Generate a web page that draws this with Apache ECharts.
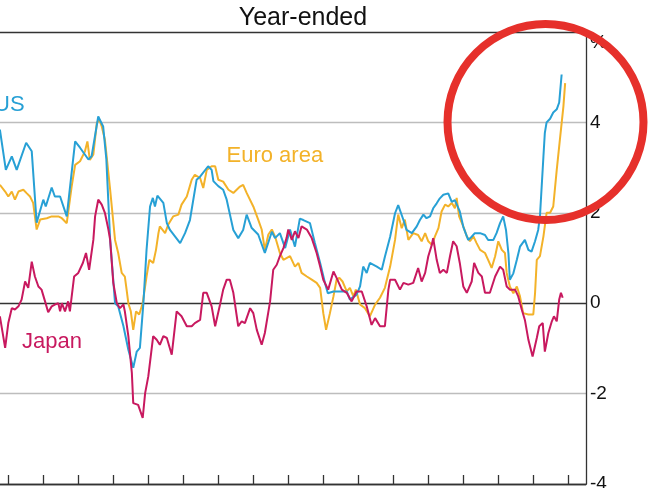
<!DOCTYPE html>
<html>
<head>
<meta charset="utf-8">
<script src="https://cdn.jsdelivr.net/npm/echarts@6/dist/echarts.min.js"></script>
<style>
html,body{margin:0;padding:0;background:#fff;}
#chart{width:650px;height:488px;}
</style>
</head>
<body>
<div id="chart"></div>
<script>
// Year-ended inflation, % ; x = decimal year
var title = 'Year-ended';
var seriesNames = ['Euro area', 'US', 'Japan'];
var yTicks = [-4, -2, 0, 2, 4, 6];
var yearTicks = [2006,2007,2008,2009,2010,2011,2012,2013,2014,2015,2016,2017,2018,2019,2020,2021,2022];

var us = [
[2005.76,3.84],[2005.93,2.95],[2006.10,3.25],[2006.24,2.95],[2006.51,3.55],[2006.67,3.36],[2006.81,1.78],
[2007.00,2.29],[2007.07,2.14],[2007.24,2.56],[2007.33,2.36],[2007.48,2.36],[2007.67,1.92],[2007.91,3.58],
[2008.05,3.44],[2008.29,3.18],[2008.38,3.25],[2008.57,4.13],[2008.71,3.91],[2008.80,3.20],[2008.91,1.40],
[2009.05,0.00],[2009.14,-0.07],[2009.29,-0.51],[2009.43,-1.03],[2009.57,-1.43],[2009.67,-1.07],[2009.76,-0.99],
[2009.86,0.00],[2009.95,1.18],[2010.05,2.14],[2010.13,2.33],[2010.19,2.14],[2010.26,2.38],[2010.43,2.22],
[2010.53,1.77],[2010.62,1.62],[2010.91,1.33],[2011.05,1.55],[2011.19,1.84],[2011.38,2.73],[2011.48,2.80],
[2011.71,3.03],[2011.81,2.95],[2011.86,2.70],[2012.00,2.59],[2012.14,2.51],[2012.24,2.29],[2012.43,1.62],
[2012.57,1.44],[2012.71,1.62],[2012.81,1.96],[2012.95,1.67],[2013.14,1.52],[2013.33,1.11],[2013.53,1.58],
[2013.62,1.44],[2013.76,1.55],[2013.91,1.22],[2014.05,1.63],[2014.19,1.25],[2014.33,1.87],[2014.43,1.84],
[2014.62,1.77],[2014.76,1.33],[2014.91,0.89],[2015.05,0.44],[2015.13,0.22],[2015.29,0.26],[2015.43,0.26],
[2015.67,0.26],[2015.76,0.08],[2015.95,0.19],[2016.05,0.37],[2016.14,0.81],[2016.24,0.67],[2016.33,0.89],
[2016.53,0.81],[2016.67,0.74],[2016.76,1.03],[2016.91,1.47],[2017.05,1.99],[2017.14,2.17],[2017.19,2.14],
[2017.29,1.84],[2017.38,1.62],[2017.53,1.55],[2017.67,1.70],[2017.76,1.84],[2017.86,1.96],[2017.95,1.88],
[2018.05,1.92],[2018.14,2.10],[2018.24,2.21],[2018.33,2.32],[2018.43,2.40],[2018.57,2.43],[2018.67,2.24],
[2018.76,2.28],[2018.90,2.03],[2019.00,1.69],[2019.14,1.40],[2019.24,1.47],[2019.33,1.55],[2019.48,1.55],
[2019.62,1.51],[2019.71,1.40],[2019.86,1.40],[2019.95,1.55],[2020.05,1.77],[2020.14,1.92],[2020.22,1.62],
[2020.29,1.10],[2020.33,0.52],[2020.43,0.66],[2020.53,0.96],[2020.62,1.25],[2020.76,1.40],[2020.86,1.18],
[2020.95,1.14],[2021.05,1.37],[2021.14,1.62],[2021.19,1.92],[2021.29,3.25],[2021.33,3.77],[2021.38,4.00],
[2021.48,4.08],[2021.57,4.22],[2021.67,4.29],[2021.74,4.44],[2021.81,5.06]
];

var euro = [
[2005.76,2.62],[2005.91,2.47],[2006.00,2.36],[2006.10,2.47],[2006.19,2.29],[2006.29,2.47],[2006.43,2.51],
[2006.53,2.43],[2006.62,2.36],[2006.71,2.22],[2006.81,1.63],[2006.91,1.85],[2007.10,1.88],[2007.24,1.92],
[2007.43,1.92],[2007.53,1.88],[2007.67,1.77],[2007.81,2.58],[2007.91,3.06],[2008.05,3.14],[2008.19,3.36],
[2008.26,3.58],[2008.33,3.17],[2008.43,3.29],[2008.53,3.99],[2008.60,4.06],[2008.67,3.91],[2008.76,3.62],
[2008.91,2.51],[2009.05,1.40],[2009.14,1.11],[2009.24,0.67],[2009.33,0.59],[2009.38,0.30],[2009.43,0.00],
[2009.50,-0.18],[2009.57,-0.59],[2009.65,-0.18],[2009.74,-0.25],[2009.84,0.00],[2009.95,0.59],[2010.03,0.96],
[2010.14,0.89],[2010.22,1.18],[2010.29,1.55],[2010.33,1.70],[2010.48,1.55],[2010.57,1.74],[2010.71,1.92],
[2010.86,1.96],[2010.95,2.18],[2011.10,2.36],[2011.24,2.73],[2011.33,2.84],[2011.48,2.77],[2011.57,2.55],
[2011.67,2.95],[2011.81,3.03],[2011.91,3.03],[2012.00,2.73],[2012.14,2.69],[2012.29,2.51],[2012.43,2.44],
[2012.62,2.58],[2012.71,2.62],[2012.81,2.44],[2013.00,2.14],[2013.14,1.85],[2013.24,1.63],[2013.33,1.18],
[2013.43,1.52],[2013.53,1.63],[2013.62,1.48],[2013.76,1.11],[2013.86,0.96],[2014.05,1.04],[2014.19,0.81],
[2014.29,0.89],[2014.38,0.67],[2014.53,0.59],[2014.67,0.52],[2014.81,0.45],[2014.91,0.34],[2015.00,-0.22],
[2015.08,-0.59],[2015.19,-0.22],[2015.29,0.15],[2015.38,0.52],[2015.46,0.56],[2015.55,0.48],[2015.67,0.26],
[2015.76,0.34],[2015.86,0.15],[2015.93,0.30],[2016.05,-0.03],[2016.19,-0.11],[2016.33,-0.29],[2016.48,-0.03],
[2016.62,0.12],[2016.76,0.34],[2016.91,0.81],[2017.05,1.40],[2017.14,1.96],[2017.24,1.66],[2017.33,1.85],
[2017.43,1.40],[2017.57,1.55],[2017.71,1.51],[2017.81,1.37],[2017.91,1.55],[2018.00,1.37],[2018.10,1.29],
[2018.19,1.48],[2018.29,1.66],[2018.38,2.03],[2018.48,2.18],[2018.57,2.14],[2018.67,2.22],[2018.76,2.10],
[2018.81,2.33],[2018.88,1.92],[2019.00,1.70],[2019.10,1.48],[2019.19,1.37],[2019.29,1.48],[2019.38,1.33],
[2019.48,1.18],[2019.62,1.11],[2019.71,0.96],[2019.81,0.78],[2019.91,1.04],[2020.00,1.37],[2020.10,1.18],
[2020.19,1.11],[2020.24,0.67],[2020.33,0.37],[2020.43,0.22],[2020.53,0.37],[2020.62,0.15],[2020.71,-0.22],
[2020.86,-0.25],[2021.00,-0.25],[2021.05,0.22],[2021.10,0.96],[2021.19,1.04],[2021.29,1.48],[2021.38,2.00],
[2021.48,2.00],[2021.57,2.14],[2021.67,2.95],[2021.76,3.62],[2021.86,4.35],[2021.91,4.87]
];

var japan = [
[2005.76,-0.29],[2005.91,-0.99],[2006.00,-0.44],[2006.10,-0.11],[2006.19,-0.14],[2006.29,-0.07],[2006.38,0.08],
[2006.48,0.48],[2006.57,0.34],[2006.67,0.92],[2006.76,0.59],[2006.86,0.37],[2006.95,0.30],[2007.05,0.04],
[2007.14,-0.20],[2007.24,-0.07],[2007.33,-0.03],[2007.43,0.00],[2007.48,-0.18],[2007.53,0.00],[2007.62,-0.18],
[2007.71,0.04],[2007.76,-0.18],[2007.88,0.59],[2008.00,0.67],[2008.13,0.89],[2008.22,1.11],[2008.31,0.74],
[2008.43,1.40],[2008.48,1.92],[2008.57,2.29],[2008.67,2.18],[2008.76,2.00],[2008.86,1.63],[2008.91,1.40],
[2009.00,0.45],[2009.10,0.00],[2009.19,-0.11],[2009.29,-0.03],[2009.33,-0.18],[2009.43,-0.73],[2009.53,-1.54],
[2009.57,-2.21],[2009.71,-2.25],[2009.84,-2.54],[2009.91,-1.99],[2010.00,-1.62],[2010.14,-0.73],[2010.24,-0.81],
[2010.33,-0.92],[2010.43,-0.73],[2010.53,-0.77],[2010.67,-1.14],[2010.81,-0.18],[2010.95,-0.29],[2011.10,-0.51],
[2011.24,-0.51],[2011.33,-0.44],[2011.48,-0.37],[2011.57,0.23],[2011.67,0.23],[2011.81,-0.07],[2011.91,-0.51],
[2012.05,-0.03],[2012.14,0.30],[2012.24,0.52],[2012.33,0.52],[2012.43,0.23],[2012.57,-0.51],[2012.67,-0.40],
[2012.76,-0.44],[2012.81,-0.33],[2012.91,-0.11],[2013.00,-0.22],[2013.10,-0.59],[2013.24,-0.92],[2013.33,-0.66],
[2013.48,0.04],[2013.57,0.74],[2013.67,0.85],[2013.76,1.04],[2013.86,1.22],[2013.95,1.44],[2014.00,1.63],
[2014.10,1.40],[2014.19,1.59],[2014.29,1.44],[2014.38,1.70],[2014.53,1.63],[2014.67,1.44],[2014.81,1.11],
[2014.91,0.81],[2015.00,0.52],[2015.14,0.30],[2015.29,0.70],[2015.38,0.56],[2015.53,0.30],[2015.67,0.23],
[2015.81,0.04],[2015.95,0.26],[2016.10,0.26],[2016.24,-0.07],[2016.38,-0.48],[2016.48,-0.33],[2016.62,-0.51],
[2016.76,-0.51],[2016.86,0.30],[2016.91,0.52],[2017.05,0.52],[2017.19,0.30],[2017.29,0.45],[2017.43,0.41],
[2017.57,0.45],[2017.71,0.78],[2017.81,0.48],[2017.91,0.67],[2018.00,1.04],[2018.10,1.29],[2018.14,1.44],
[2018.24,0.96],[2018.33,0.67],[2018.43,0.74],[2018.53,0.67],[2018.62,1.04],[2018.71,1.37],[2018.81,1.26],
[2018.90,0.89],[2019.00,0.37],[2019.10,0.23],[2019.24,0.48],[2019.31,0.89],[2019.43,0.67],[2019.53,0.59],
[2019.62,0.23],[2019.76,0.23],[2019.91,0.59],[2020.05,0.81],[2020.14,0.74],[2020.24,0.37],[2020.33,0.30],
[2020.48,0.30],[2020.57,0.15],[2020.67,-0.14],[2020.76,-0.37],[2020.86,-0.81],[2020.98,-1.18],[2021.10,-0.77],
[2021.17,-0.51],[2021.27,-0.44],[2021.33,-1.07],[2021.43,-0.66],[2021.53,-0.40],[2021.59,-0.29],[2021.67,-0.40],
[2021.74,0.08],[2021.79,0.23],[2021.84,0.12]
];

var colors = { us: '#27a0d5', euro: '#f3b229', japan: '#c8195f' };

var chart = echarts.init(document.getElementById('chart'), null, { renderer: 'canvas' });
var FONT = 'Liberation Sans, Arial, sans-serif';

function lineSeries(name, data, color) {
  return {
    name: name, type: 'line', data: data, showSymbol: false, symbol: 'none',
    lineStyle: { color: color, width: 2 }, itemStyle: { color: color },
    animation: false, silent: true
  };
}

chart.setOption({
  backgroundColor: '#fff',
  animation: false,
  title: {
    text: title, left: 298, top: 1, textAlign: 'center',
    textStyle: { fontFamily: FONT, fontSize: 25, fontWeight: 'normal', color: '#111' }
  },
  grid: { left: 0, right: 64, top: 32, bottom: 4, containLabel: false, outerBoundsMode: 'none' },
  xAxis: {
    type: 'value', min: 2005.763, max: 2022.506,
    axisLine: { show: true, onZero: false, lineStyle: { color: '#333', width: 1.3 } },
    axisTick: { show: true, inside: true, length: 9, customValues: yearTicks, lineStyle: { color: '#333', width: 1.3 } },
    axisLabel: { show: false },
    splitLine: { show: false }
  },
  yAxis: {
    type: 'value', position: 'right', min: -4, max: 6, interval: 2,
    axisLine: { show: true, lineStyle: { color: '#333', width: 1.3 } },
    axisTick: { show: false },
    splitLine: { show: true, lineStyle: { color: ['#333', '#bdbdbd', '#333', '#bdbdbd', '#bdbdbd', '#333'], width: 1.3 } },
    axisLabel: {
      margin: 4, color: '#111', fontFamily: FONT, fontSize: 19,
      formatter: function (v) { return v === 6 ? '{p|%}' : String(v); },
      rich: { p: { fontFamily: FONT, fontSize: 19, color: '#111', padding: [22, 0, 0, 0] } }
    }
  },
  series: [
    lineSeries('Euro area', euro, colors.euro),
    lineSeries('US', us, colors.us),
    lineSeries('Japan', japan, colors.japan)
  ],
  graphic: [
    { type: 'text', left: -6, top: 94, style: { text: 'US', fontFamily: FONT, fontSize: 22, fill: colors.us }, z: 10 },
    { type: 'text', left: 226.5, top: 145, style: { text: 'Euro area', fontFamily: FONT, fontSize: 22, fill: colors.euro }, z: 10 },
    { type: 'text', left: 22, top: 331, style: { text: 'Japan', fontFamily: FONT, fontSize: 22, fill: colors.japan }, z: 10 },
    { type: 'circle', shape: { cx: 545.5, cy: 122, r: 98 }, style: { fill: 'none', stroke: '#e6302b', lineWidth: 8 }, z: 100 }
  ]
});
</script>
</body>
</html>
